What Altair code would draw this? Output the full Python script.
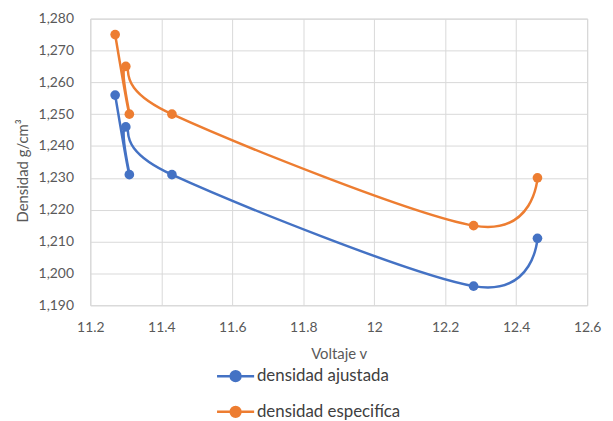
import altair as alt
import pandas as pd

voltaje = [11.27, 11.31, 11.30, 11.43, 12.28, 12.46]
ajustada = [1.256, 1.231, 1.246, 1.231, 1.196, 1.211]
especifica = [1.275, 1.250, 1.265, 1.250, 1.215, 1.230]
series = ["densidad ajustada", "densidad especifíca"]
colors = ["#4472C4", "#ED7D31"]
x_ticks = [11.2, 11.4, 11.6, 11.8, 12.0, 12.2, 12.4, 12.6]
y_ticks = [1.19, 1.20, 1.21, 1.22, 1.23, 1.24, 1.25, 1.26, 1.27, 1.28]

rows = []
for s, vals in zip(series, [ajustada, especifica]):
    for i, (v, d) in enumerate(zip(voltaje, vals)):
        rows.append({"serie": s, "idx": i, "voltaje": v, "densidad": d})
df = pd.DataFrame(rows)

FONT = "Lato"
GRAY = "#595959"

color_scale = alt.Scale(domain=series, range=colors)
sym_path = ("M-1.1,0L1.1,0M-0.29,0A0.29,0.29,0,1,1,0.29,0"
            "A0.29,0.29,0,1,1,-0.29,0Z")
legend = alt.Legend(
    title=None, orient="none", legendX=128, legendY=342, padding=0,
    symbolType=sym_path, symbolSize=1156, symbolStrokeWidth=2.5,
    labelFont=FONT, labelFontSize=17, labelColor="#404040",
    labelOffset=3, rowPadding=7, direction="vertical",
)

x_enc = alt.X("voltaje:Q", title="Voltaje v",
              scale=alt.Scale(domain=[11.2, 12.6], nice=False, zero=False),
              axis=alt.Axis(values=x_ticks, format="~g", labelPadding=15,
                            labelFlush=False, titlePadding=13))
y_enc = alt.Y("densidad:Q", title="Densidad g/cm³",
              scale=alt.Scale(domain=[1.19, 1.28], nice=False, zero=False),
              axis=alt.Axis(values=y_ticks,
                            labelExpr="replace(format(datum.value, '.3f'), '.', ',')",
                            labelPadding=17, titlePadding=8, titleY=153,
                            labelFlush=False))

base = alt.Chart(df)
line = base.mark_line(interpolate="cardinal", strokeWidth=2.5).encode(
    x=x_enc, y=y_enc,
    stroke=alt.Stroke("serie:N", scale=color_scale, legend=legend),
    order="idx:Q",
)
pts = base.mark_point(filled=True, size=95, opacity=1).encode(
    x=x_enc, y=y_enc,
    fill=alt.Fill("serie:N", scale=color_scale, legend=legend),
)

chart = (
    alt.layer(line, pts)
    .properties(
        width=501, height=289,
        autosize=alt.AutoSizeParams(type="none"),
        padding={"left": 83, "top": 9, "right": 18, "bottom": 115},
    )
    .configure_view(stroke="#d0d0d0", strokeWidth=1)
    .configure_axis(
        grid=True, gridColor="#d9d9d9", gridWidth=1, domain=False, ticks=False,
        labelFont=FONT, labelFontSize=14, labelColor=GRAY,
        titleFont=FONT, titleFontSize=15, titleColor=GRAY, titleFontWeight="normal",
    )
)

chart.save("out.html", embed_options={"renderer": "svg", "actions": False})
